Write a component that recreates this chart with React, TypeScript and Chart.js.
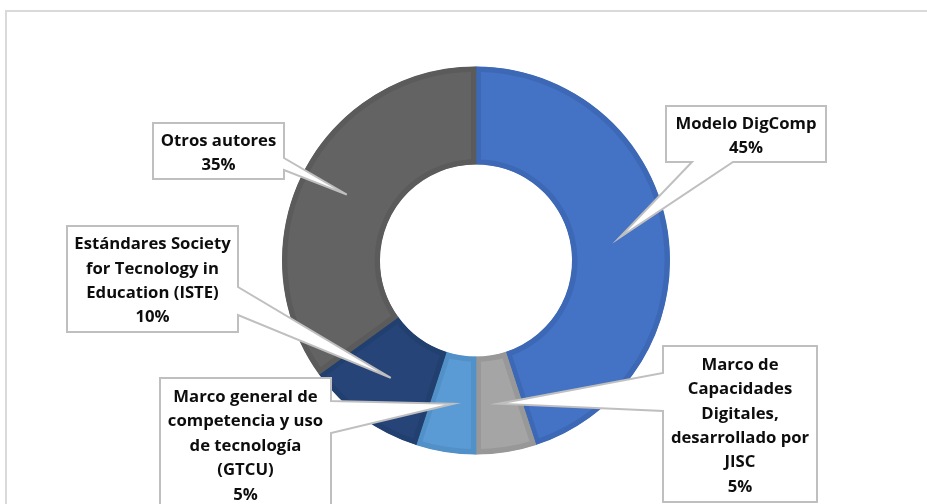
import React, { useEffect, useRef } from "react";
import { Chart, registerables } from "chart.js";

Chart.register(...registerables);

// ---- data ----
const categories = [
  "Modelo DigComp",
  "Marco de Capacidades Digitales, desarrollado por JISC",
  "Marco general de competencia y uso de tecnología (GTCU)",
  "Estándares Society for Tecnology in Education (ISTE)",
  "Otros autores",
];
const labelLines = [
  ["Modelo DigComp"],
  ["Marco de", "Capacidades", "Digitales,", "desarrollado por", "JISC"],
  ["Marco general de", "competencia y uso", "de tecnología", "(GTCU)"],
  ["Estándares Society", "for Tecnology in", "Education (ISTE)"],
  ["Otros autores"],
];
const values = [45, 5, 5, 10, 35];

// ---- styles ----
const fillColors = ["#4472C4", "#A5A5A5", "#5B9BD5", "#264478", "#636363"];
const borderColors = ["#3D68B5", "#989898", "#5290C8", "#22406F", "#5B5B5B"];

// ---- callout layout (box rectangles and pointer base on one side) ----
const calloutLayout = [
  { x0: 666, y0: 106, x1: 826, y1: 162, side: "bottom", b0: 692, b1: 733 },
  { x0: 663, y0: 346, x1: 817, y1: 502, side: "left", b0: 373, b1: 411 },
  { x0: 160, y0: 378, x1: 331, y1: 510, side: "right", b0: 401, b1: 433 },
  { x0: 67, y0: 226, x1: 238, y1: 332, side: "right", b0: 287, b1: 315 },
  { x0: 153, y0: 123, x1: 284, y1: 179, side: "right", b0: 158, b1: 170 },
];

const FONT = "bold 16.7px 'Open Sans', Lato, sans-serif";
const LINE_H = 24.4;

const calloutPlugin = {
  id: "callouts",
  afterDatasetsDraw(chart: any) {
    const ctx = chart.ctx as CanvasRenderingContext2D;
    const meta = chart.getDatasetMeta(0);
    const total = values.reduce((a, b) => a + b, 0);
    meta.data.forEach((arc: any, i: number) => {
      const L = calloutLayout[i];
      if (!L) return;
      const tip = arc.getCenterPoint();
      const { x0, y0, x1, y1, side, b0, b1 } = L;
      ctx.save();
      ctx.beginPath();
      ctx.moveTo(x0, y0);
      ctx.lineTo(x1, y0);
      if (side === "right") {
        ctx.lineTo(x1, b0);
        ctx.lineTo(tip.x, tip.y);
        ctx.lineTo(x1, b1);
      }
      ctx.lineTo(x1, y1);
      if (side === "bottom") {
        ctx.lineTo(b1, y1);
        ctx.lineTo(tip.x, tip.y);
        ctx.lineTo(b0, y1);
      }
      ctx.lineTo(x0, y1);
      if (side === "left") {
        ctx.lineTo(x0, b1);
        ctx.lineTo(tip.x, tip.y);
        ctx.lineTo(x0, b0);
      }
      ctx.closePath();
      ctx.fillStyle = "#FFFFFF";
      ctx.fill();
      ctx.lineWidth = 2;
      ctx.lineJoin = "miter";
      ctx.strokeStyle = "#BFBFBF";
      ctx.stroke();

      const pct = Math.round((values[i] / total) * 100) + "%";
      const lines = [...labelLines[i], pct];
      ctx.font = FONT;
      ctx.fillStyle = "#0D0D0D";
      ctx.textAlign = "center";
      ctx.textBaseline = "middle";
      const cx = (x0 + x1) / 2;
      const cy = (y0 + y1) / 2 + 2;
      const startY = cy - ((lines.length - 1) * LINE_H) / 2;
      lines.forEach((ln, k) => ctx.fillText(ln, cx, startY + k * LINE_H));
      ctx.restore();
    });
  },
};

const framePlugin = {
  id: "frame",
  beforeDraw(chart: any) {
    const ctx = chart.ctx as CanvasRenderingContext2D;
    ctx.save();
    ctx.fillStyle = "#FFFFFF";
    ctx.fillRect(0, 0, chart.width, chart.height);
    ctx.strokeStyle = "#D9D9D9";
    ctx.lineWidth = 2;
    ctx.beginPath();
    ctx.moveTo(chart.width + 5, 11);
    ctx.lineTo(6, 11);
    ctx.lineTo(6, chart.height + 5);
    ctx.stroke();
    ctx.restore();
  },
};

export default function App() {
  const ref = useRef<HTMLCanvasElement | null>(null);
  useEffect(() => {
    if (!ref.current) return;
    const chart = new Chart(ref.current, {
      type: "doughnut",
      data: {
        labels: categories,
        datasets: [
          {
            data: values,
            backgroundColor: fillColors,
            borderColor: borderColors,
            borderWidth: 5,
            borderAlign: "inner",
          } as any,
        ],
      },
      options: {
        responsive: false,
        animation: false,
        radius: 194,
        cutout: "49.5%",
        layout: { padding: { left: 25, right: 0, top: 17, bottom: 0 } },
        plugins: {
          legend: { display: false },
          tooltip: { enabled: false },
        },
        events: [],
      } as any,
      plugins: [framePlugin, calloutPlugin],
    });
    return () => chart.destroy();
  }, []);
  return (
    <div
      style={{
        position: "fixed",
        left: 0,
        top: 0,
        width: 927,
        height: 504,
        background: "#FFFFFF",
      }}
    >
      <canvas ref={ref} width={927} height={504} style={{ display: "block" }} />
    </div>
  );
}
